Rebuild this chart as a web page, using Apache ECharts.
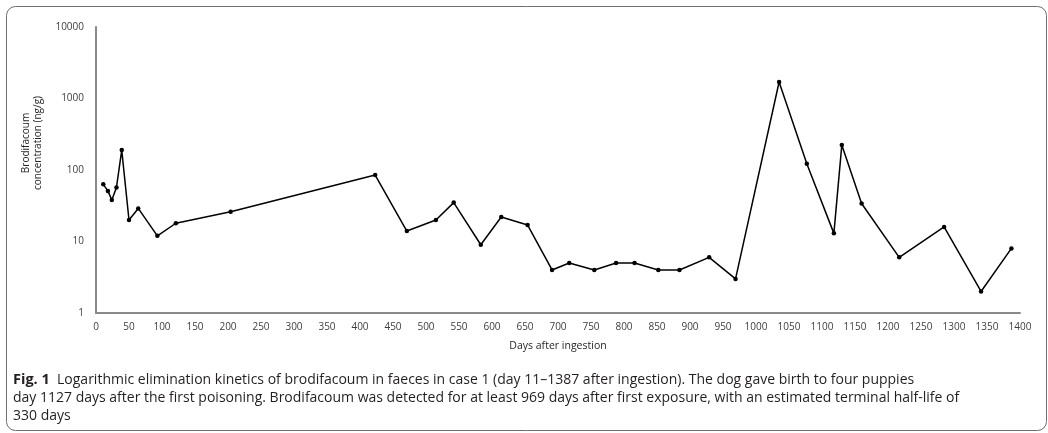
<!DOCTYPE html>
<html>
<head>
<meta charset="utf-8">
<script src="https://cdn.jsdelivr.net/npm/echarts@6/dist/echarts.min.js"></script>
<style>
  html, body { margin: 0; padding: 0; background: #ffffff; }
  #chart { width: 1048px; height: 433px; }
</style>
</head>
<body>
<div id="chart"></div>
<script>
// Days after ingestion
const days = [11, 18, 24, 31, 39, 50, 64, 93, 121, 204, 423, 471, 515, 542, 583, 614, 654, 691, 717, 755, 788, 816, 852, 884, 929, 969, 1035, 1077, 1118, 1130, 1160, 1217, 1285, 1341, 1387];
// Brodifacoum concentration (ng/g)
const concentration = [63, 51, 38, 57, 190, 20, 29, 12, 18, 26, 85, 14, 20, 35, 9, 22, 17, 4, 5, 4, 5, 5, 4, 4, 6, 3, 1700, 122, 13, 223, 34, 6, 16, 2, 8];
// Axis tick settings
const xTickStep = 50;
const xMin = 0, xMax = 1400;
const yMin = 1, yMax = 10000;

const xTitle = 'Days after ingestion';
const yTitle = 'Brodifacoum\nconcentration (ng/g)';
const captionBold = 'Fig. 1';
const captionLines = [
  'Logarithmic elimination kinetics of brodifacoum in faeces in case 1 (day 11–1387 after ingestion). The dog gave birth to four puppies',
  'day 1127 days after the first poisoning. Brodifacoum was detected for at least 969 days after first exposure, with an estimated terminal half-life of',
  '330 days'
];

const seriesData = days.map((d, i) => [d, concentration[i]]);

const labelFont = '"Open Sans", "Noto Sans", sans-serif';
const captionFont = '"Open Sans", "Noto Sans", sans-serif';
const capSize = 14;

const chart = echarts.init(document.getElementById('chart'), null, { renderer: 'canvas' });
chart.setOption({
  animation: false,
  backgroundColor: '#ffffff',
  grid: { left: 96, right: 28, top: 27, bottom: 120, containLabel: false },
  xAxis: {
    type: 'value',
    min: xMin, max: xMax, interval: xTickStep,
    name: xTitle,
    nameLocation: 'middle',
    nameGap: 28,
    nameTextStyle: { fontFamily: labelFont, fontSize: 10.5, color: '#262626' },
    axisLine: { show: true, lineStyle: { color: '#8a8a8a', width: 2 } },
    axisTick: { show: false },
    splitLine: { show: false },
    axisLabel: {
      fontFamily: labelFont, fontSize: 10, color: '#404040', margin: 9,
      showMinLabel: true, showMaxLabel: true, hideOverlap: false,
      formatter: v => String(Math.round(v))
    }
  },
  yAxis: {
    type: 'log', logBase: 10,
    min: yMin, max: yMax,
    axisLine: { show: true, lineStyle: { color: '#8a8a8a', width: 2 } },
    axisTick: { show: false },
    splitLine: { show: false },
    axisLabel: {
      fontFamily: labelFont, fontSize: 10, color: '#404040', margin: 12,
      formatter: v => String(Math.round(v))
    }
  },
  series: [{
    type: 'line',
    data: seriesData,
    symbol: 'circle',
    symbolSize: 4.5,
    showSymbol: true,
    lineStyle: { color: '#000000', width: 1.5 },
    itemStyle: { color: '#000000' },
    silent: true
  }],
  graphic: [
    {
      type: 'rect',
      shape: { x: 6.5, y: 6.5, width: 1040, height: 424, r: 9 },
      style: { fill: 'none', stroke: '#6d6e71', lineWidth: 1 },
      silent: true
    },
    {
      type: 'text',
      x: 32, y: 143,
      rotation: Math.PI / 2,
      style: {
        text: yTitle,
        font: '10px ' + labelFont,
        fill: '#262626',
        textAlign: 'center',
        textVerticalAlign: 'middle',
        lineHeight: 11.5
      },
      silent: true
    },
    {
      type: 'text',
      x: 13, y: 380,
      style: {
        text: '{b|' + captionBold + '}  ' + captionLines[0],
        rich: { b: { fontWeight: 'bold', fontFamily: captionFont, fontSize: capSize + 0.5, fill: '#231f20' } },
        fontFamily: captionFont, fontSize: capSize,
        fill: '#231f20',
        textVerticalAlign: 'middle'
      },
      silent: true
    },
    {
      type: 'text',
      x: 13, y: 398,
      style: { text: captionLines[1], fontFamily: captionFont, fontSize: capSize, fill: '#231f20', textVerticalAlign: 'middle' },
      silent: true
    },
    {
      type: 'text',
      x: 13, y: 416,
      style: { text: captionLines[2], fontFamily: captionFont, fontSize: capSize, fill: '#231f20', textVerticalAlign: 'middle' },
      silent: true
    }
  ]
});
</script>
</body>
</html>
